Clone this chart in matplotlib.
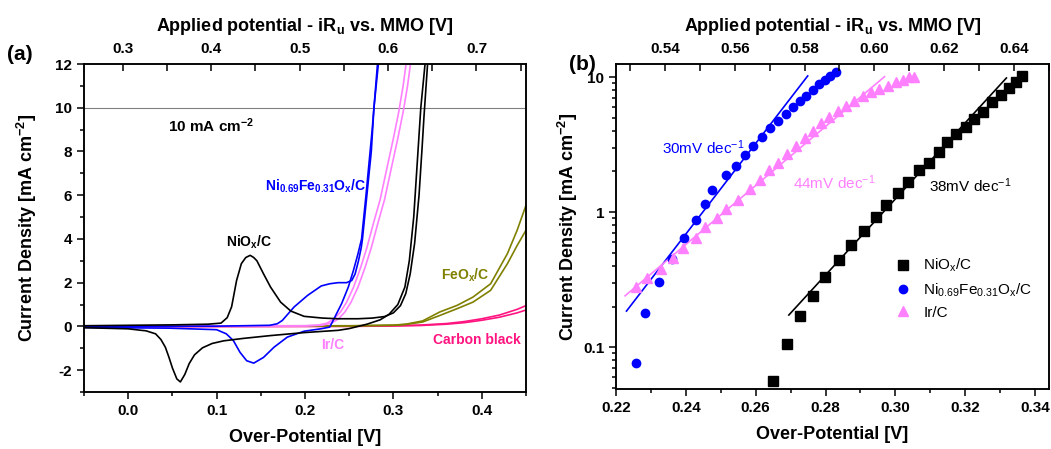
import matplotlib
matplotlib.use("Agg")
import matplotlib.pyplot as plt
from matplotlib.ticker import MultipleLocator, FixedLocator, FixedFormatter, LogLocator, NullFormatter

plt.rcParams["font.family"] = ["Liberation Sans", "DejaVu Sans"]
plt.rcParams["mathtext.fontset"] = "custom"
plt.rcParams["mathtext.rm"] = "Liberation Sans"
plt.rcParams["mathtext.bf"] = "Liberation Sans:bold"
plt.rcParams["mathtext.default"] = "regular"
plt.rcParams["axes.unicode_minus"] = False

# offset between over-potential and applied potential vs. MMO
OFFSET = 0.306

# ---- panel (a): CVs (over-potential [V], current density [mA cm-2]) ----
nio_fwd_x = [-0.05, 0.0, 0.05, 0.09, 0.105, 0.112, 0.117, 0.1226, 0.128, 0.133, 0.138, 0.142,
             0.1456, 0.153, 0.161, 0.1724, 0.184, 0.199, 0.22, 0.2375, 0.26, 0.276, 0.29, 0.30,
             0.308, 0.314, 0.319, 0.324, 0.329, 0.3325, 0.3346, 0.339, 0.341]
nio_fwd_y = [0.03, 0.05, 0.07, 0.1, 0.15, 0.4, 0.9, 2.1, 2.87, 3.15, 3.25, 3.15,
             3.0, 2.41, 1.80, 1.11, 0.70, 0.46, 0.38, 0.35, 0.35, 0.38, 0.45, 0.62,
             0.95, 1.5, 2.4, 3.8, 6.0, 8.2, 9.6, 12.2, 13.0]
nio_rev_x = [0.337, 0.331, 0.327, 0.323, 0.318, 0.313, 0.305, 0.295, 0.285, 0.27, 0.25, 0.2375,
             0.2, 0.161, 0.13, 0.108, 0.095, 0.084, 0.075, 0.069, 0.064, 0.059, 0.055, 0.05,
             0.046, 0.042, 0.037, 0.031, 0.02, 0.015, 0.0, -0.05]
nio_rev_y = [12.5, 10.0, 7.5, 5.0, 3.0, 1.8, 1.0, 0.55, 0.3, 0.1, -0.1, -0.18,
             -0.28, -0.42, -0.55, -0.66, -0.78, -0.98, -1.3, -1.7, -2.2, -2.54, -2.4, -1.9,
             -1.4, -0.95, -0.6, -0.34, -0.2, -0.18, -0.11, -0.06]

nife_fwd_x = [-0.05, 0.1, 0.16, 0.1686, 0.1743, 0.1877, 0.203, 0.2184, 0.228, 0.2375, 0.247,
              0.2529, 0.2567, 0.2605, 0.2636, 0.265, 0.27, 0.275, 0.278, 0.283, 0.285]
nife_fwd_y = [0.0, 0.01, 0.05, 0.12, 0.27, 0.89, 1.42, 1.85, 1.95, 2.0, 2.0,
              2.1, 2.4, 3.0, 3.6, 4.0, 6.0, 8.0, 10.0, 12.0, 13.0]
nife_rev_x = [0.283, 0.276, 0.269, 0.264, 0.26, 0.2548, 0.249, 0.2414, 0.2318, 0.228, 0.218,
              0.199, 0.18, 0.165, 0.153, 0.142, 0.134, 0.1264, 0.119, 0.111, 0.1, 0.046, -0.05]
nife_rev_y = [12.5, 9.0, 6.0, 4.0, 3.33, 2.56, 1.8, 1.04, 0.27, -0.03, -0.11,
              -0.22, -0.49, -0.95, -1.42, -1.68, -1.57, -1.18, -0.65, -0.34, -0.15, -0.08, -0.05]

ir_1_x = [-0.05, 0.1, 0.2, 0.215, 0.225, 0.233, 0.24, 0.247, 0.255, 0.263, 0.27, 0.278,
          0.285, 0.293, 0.30, 0.306, 0.311, 0.315]
ir_1_y = [0.02, 0.02, 0.03, 0.06, 0.15, 0.35, 0.65, 1.1, 1.8, 2.7, 3.6, 4.8,
          5.8, 7.3, 8.6, 9.8, 11.0, 12.2]
ir_2_x = [-0.05, 0.1, 0.2, 0.22, 0.23, 0.238, 0.245, 0.252, 0.26, 0.268, 0.275, 0.283,
          0.29, 0.298, 0.305, 0.311, 0.316, 0.32]
ir_2_y = [0.0, 0.01, 0.02, 0.06, 0.15, 0.35, 0.65, 1.1, 1.8, 2.7, 3.6, 4.8,
          5.8, 7.3, 8.6, 9.8, 11.0, 12.2]

feo_1_x = [-0.05, 0.25, 0.30, 0.314, 0.333, 0.3525, 0.372, 0.39, 0.41, 0.429, 0.44, 0.45]
feo_1_y = [0.01, 0.02, 0.05, 0.09, 0.2, 0.5, 0.81, 1.11, 1.65, 2.87, 3.7, 4.4]
feo_2_x = [-0.05, 0.25, 0.30, 0.314, 0.333, 0.3525, 0.372, 0.39, 0.41, 0.429, 0.44, 0.45]
feo_2_y = [0.02, 0.03, 0.06, 0.1, 0.25, 0.66, 0.96, 1.34, 1.95, 3.33, 4.4, 5.54]

cb_1_x = [-0.05, 0.25, 0.30, 0.33, 0.36, 0.38, 0.40, 0.42, 0.44, 0.45]
cb_1_y = [0.0, 0.01, 0.03, 0.06, 0.13, 0.22, 0.35, 0.52, 0.78, 0.95]
cb_2_x = [-0.05, 0.25, 0.30, 0.33, 0.36, 0.38, 0.40, 0.42, 0.44, 0.45]
cb_2_y = [-0.02, 0.0, 0.02, 0.04, 0.10, 0.17, 0.28, 0.42, 0.62, 0.75]

# ---- panel (b): Tafel data ----
nio_tafel_x = [0.265, 0.2690, 0.2728, 0.2764, 0.2798, 0.2838, 0.2874, 0.2910, 0.2945, 0.2973,
               0.3009, 0.3035, 0.3067, 0.3095, 0.3124, 0.3149, 0.3175, 0.3202, 0.3226, 0.3251,
               0.3278, 0.3302, 0.3326, 0.3345, 0.3364]
nio_tafel_y = [0.0558, 0.105, 0.169, 0.240, 0.332, 0.440, 0.571, 0.728, 0.914, 1.13,
               1.39, 1.67, 2.04, 2.32, 2.79, 3.30, 3.76, 4.26, 4.91, 5.56,
               6.51, 7.38, 8.32, 9.15, 10.2]
nife_tafel_x = [0.2257, 0.2284, 0.2324, 0.2359, 0.2394, 0.2428, 0.2456, 0.2476, 0.2516, 0.2543,
                0.2569, 0.2592, 0.2618, 0.2642, 0.2665, 0.2686, 0.2707, 0.2728, 0.2745, 0.2764,
                0.2781, 0.2798, 0.2813, 0.2829]
nife_tafel_y = [0.0762, 0.178, 0.305, 0.453, 0.647, 0.869, 1.14, 1.47, 1.87, 2.20,
                2.63, 3.08, 3.59, 4.19, 4.71, 5.34, 5.98, 6.70, 7.29, 8.03,
                8.89, 9.57, 10.2, 10.96]
ir_tafel_x = [0.2257, 0.2288, 0.2329, 0.2362, 0.2392, 0.2428, 0.2456, 0.2488, 0.2516, 0.2549,
              0.2583, 0.2611, 0.2638, 0.2664, 0.2689, 0.2716, 0.2740, 0.2764, 0.2788, 0.2811,
              0.2835, 0.2859, 0.2883, 0.2907, 0.2931, 0.2954, 0.2978, 0.3002, 0.3021, 0.3040,
              0.3052]
ir_tafel_y = [0.280, 0.328, 0.382, 0.461, 0.546, 0.647, 0.775, 0.908, 1.06, 1.24,
              1.48, 1.72, 2.04, 2.32, 2.71, 3.08, 3.53, 3.98, 4.56, 5.05,
              5.59, 6.15, 6.70, 7.21, 7.71, 8.17, 8.64, 9.15, 9.52, 9.95,
              10.1]

# Tafel fit lines (end points)
nio_fit_x = [0.2695, 0.3318]
nio_fit_y = [0.173, 9.85]
nife_fit_x = [0.2230, 0.2749]
nife_fit_y = [0.185, 10.2]
ir_fit_x = [0.2226, 0.2969]
ir_fit_y = [0.240, 10.07]

C_NIFE = "#0000FF"
C_IR = "#FF80FF"
C_FEO = "#808000"
C_CB = "#FF1480"

fig = plt.figure(figsize=(10.51, 4.49), dpi=100)
ax_a = fig.add_axes([84 / 1051, 1 - 392 / 449, (526 - 84) / 1051, (392 - 64) / 449])
ax_b = fig.add_axes([616 / 1051, 1 - 389 / 449, (1049 - 616) / 1051, (389 - 64) / 449])

lw = 1.2
ax_a.axhline(10, color="#808080", lw=0.8, zorder=1)
ax_a.plot(cb_1_x, cb_1_y, color=C_CB, lw=lw)
ax_a.plot(cb_2_x, cb_2_y, color=C_CB, lw=lw)
ax_a.plot(feo_1_x, feo_1_y, color=C_FEO, lw=lw)
ax_a.plot(feo_2_x, feo_2_y, color=C_FEO, lw=lw)
ax_a.plot(ir_1_x, ir_1_y, color=C_IR, lw=lw)
ax_a.plot(ir_2_x, ir_2_y, color=C_IR, lw=lw)
ax_a.plot(nife_fwd_x, nife_fwd_y, color=C_NIFE, lw=lw)
ax_a.plot(nife_rev_x, nife_rev_y, color=C_NIFE, lw=lw)
ax_a.plot(nio_fwd_x, nio_fwd_y, color="black", lw=lw)
ax_a.plot(nio_rev_x, nio_rev_y, color="black", lw=lw)

ax_a.set_xlim(-0.05, 0.45)
ax_a.set_ylim(-3, 12)

lab = dict(fontsize=10, fontweight="bold")
ax_a.text(0.045, 9.2, r"10 mA cm$^{\mathbf{-2}}$", ha="left", va="center", color="black",
          fontsize=11, fontweight="bold")
ax_a.text(0.137, 3.85, r"NiO$_{\mathbf{x}}$/C", ha="center", va="center", color="black", **lab)
ax_a.text(0.2115, 6.4, r"Ni$_{\mathbf{0.69}}$Fe$_{\mathbf{0.31}}$O$_{\mathbf{x}}$/C", ha="center",
          va="center", color=C_NIFE, **lab)
ax_a.text(0.381, 2.34, r"FeO$_{\mathbf{x}}$/C", ha="center", va="center", color=C_FEO, **lab)
ax_a.text(0.231, -0.83, "Ir/C", ha="center", va="center", color=C_IR, **lab)
ax_a.text(0.394, -0.64, "Carbon black", ha="center", va="center", color=C_CB, **lab)

# ---- panel (b) ----
ax_b.plot(nio_fit_x, nio_fit_y, color="black", lw=lw)
ax_b.plot(nife_fit_x, nife_fit_y, color=C_NIFE, lw=lw)
ax_b.plot(ir_fit_x, ir_fit_y, color=C_IR, lw=lw)
ax_b.plot(nio_tafel_x, nio_tafel_y, ls="none", marker="s", ms=6.5, color="black",
          label=r"NiO$_x$/C")
ax_b.plot(nife_tafel_x, nife_tafel_y, ls="none", marker="o", ms=6, color=C_NIFE,
          label=r"Ni$_{0.69}$Fe$_{0.31}$O$_x$/C")
ax_b.plot(ir_tafel_x, ir_tafel_y, ls="none", marker="^", ms=7, color=C_IR, label="Ir/C")
ax_b.set_yscale("log")
ax_b.set_xlim(0.22, 0.344)
ax_b.set_ylim(0.049, 12.5)

ax_b.text(0.2331, 3.0, r"30mV dec$^{-1}$", color=C_NIFE, fontsize=11, va="center")
ax_b.text(0.2706, 1.64, r"44mV dec$^{-1}$", color=C_IR, fontsize=11, va="center")
ax_b.text(0.3097, 1.58, r"38mV dec$^{-1}$", color="black", fontsize=11, va="center")

ax_b.legend(loc="center left", bbox_to_anchor=(0.625, 0.31), frameon=False, fontsize=11,
            handlelength=1.2, handletextpad=0.7, labelspacing=0.45, borderpad=0)

# ---- axes styling ----
for ax in (ax_a, ax_b):
    for sp in ax.spines.values():
        sp.set_linewidth(1.1)
    ax.tick_params(which="both", direction="out", top=False, right=False, width=1.1)
    ax.tick_params(which="major", length=5)
    ax.tick_params(which="minor", length=3)
    ax.tick_params(labelsize=11)
    ax.set_xlabel("Over-Potential [V]", fontsize=13, fontweight="bold", labelpad=8)
    ax.set_ylabel(r"Current Density [mA cm$^{\mathbf{-2}}$]", fontsize=13, fontweight="bold")

ax_a.xaxis.set_major_locator(MultipleLocator(0.1))
ax_a.xaxis.set_minor_locator(MultipleLocator(0.05))
ax_a.yaxis.set_major_locator(MultipleLocator(2))
ax_a.yaxis.set_minor_locator(MultipleLocator(1))
ax_a.xaxis.set_major_formatter(matplotlib.ticker.FormatStrFormatter("%.1f"))
ax_a.yaxis.set_major_formatter(matplotlib.ticker.FormatStrFormatter("%d"))
ax_a.yaxis.labelpad = 12

ax_b.xaxis.set_major_locator(MultipleLocator(0.02))
ax_b.xaxis.set_minor_locator(MultipleLocator(0.01))
ax_b.xaxis.set_major_formatter(matplotlib.ticker.FormatStrFormatter("%.2f"))
ax_b.yaxis.set_major_locator(FixedLocator([0.1, 1, 10]))
ax_b.yaxis.set_major_formatter(FixedFormatter(["0.1", "1", "10"]))
ax_b.yaxis.set_minor_locator(LogLocator(base=10, subs=range(2, 10)))
ax_b.yaxis.set_minor_formatter(NullFormatter())
ax_b.yaxis.labelpad = 2

for ax in (ax_a, ax_b):
    for t in ax.get_xticklabels() + ax.get_yticklabels():
        t.set_fontweight("bold")

# top axes: applied potential
for ax, step, minor, fmt in ((ax_a, 0.1, 0.05, "%.1f"), (ax_b, 0.02, 0.01, "%.2f")):
    top = ax.twiny()
    lo, hi = ax.get_xlim()
    top.set_xlim(lo + OFFSET, hi + OFFSET)
    top.xaxis.set_major_locator(MultipleLocator(step))
    top.xaxis.set_minor_locator(MultipleLocator(minor))
    top.xaxis.set_major_formatter(matplotlib.ticker.FormatStrFormatter(fmt))
    top.tick_params(which="both", direction="in", width=1.1, labelsize=11, pad=6)
    top.tick_params(which="major", length=5)
    top.tick_params(which="minor", length=5)
    for t in top.get_xticklabels():
        t.set_fontweight("bold")
    top.set_xlabel(r"Applied potential - iR$_{\mathbf{u}}$ vs. MMO [V]", fontsize=13,
                   fontweight="bold", labelpad=8)
    for sp in top.spines.values():
        sp.set_linewidth(1.1)

fig.text(20 / 1051, 1 - 55 / 449, "(a)", fontsize=15, fontweight="bold", ha="center", va="center")
fig.text(582 / 1051, 1 - 64 / 449, "(b)", fontsize=15, fontweight="bold", ha="center", va="center")

fig.savefig("out.png", dpi=100)
